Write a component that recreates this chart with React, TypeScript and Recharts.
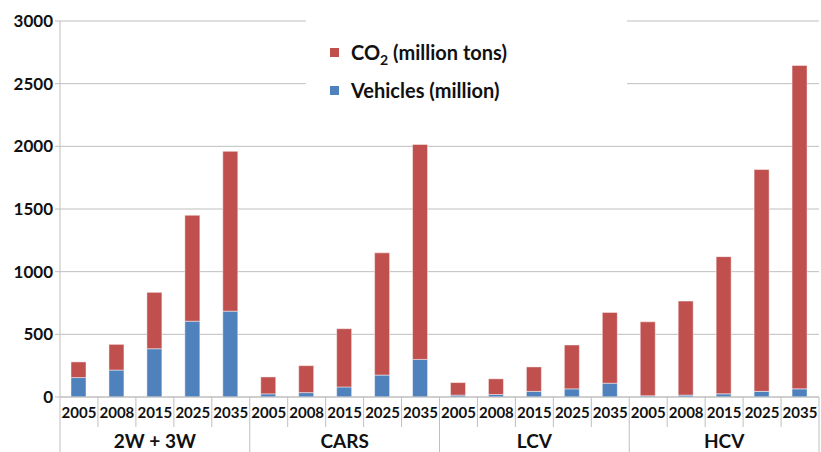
import React from "react";
import { BarChart, Bar, XAxis, YAxis, CartesianGrid } from "recharts";

const GROUPS = ["2W + 3W", "CARS", "LCV", "HCV"];
const YEARS = ["2005", "2008", "2015", "2025", "2035"];

// vehicles (million), per group, per year
const VEHICLES = [
  [155, 215, 385, 605, 685],
  [25, 35, 80, 175, 300],
  [15, 20, 45, 65, 110],
  [10, 15, 25, 45, 65],
];

// CO2 (million tons), stacked on top of vehicles
const CO2 = [
  [125, 205, 450, 845, 1275],
  [135, 215, 465, 975, 1715],
  [100, 125, 195, 350, 565],
  [590, 750, 1095, 1770, 2580],
];

const Y_TICKS = [0, 500, 1000, 1500, 2000, 2500, 3000];

const RED = "#C0504D";
const BLUE = "#4F81BD";
const GRID = "#BFBFBF";
const FONT = "Lato, 'Open Sans', sans-serif";

const W = 821;
const H = 452;
const M = { top: 21, right: 2, bottom: 0, left: 0 };
const Y_W = 60;
const X_H = 55;
const AXIS_Y = H - X_H;

const data = GROUPS.flatMap((g, gi) =>
  YEARS.map((y, yi) => ({
    key: `${g} ${y}`,
    group: g,
    year: y,
    vehicles: VEHICLES[gi][yi],
    co2: CO2[gi][yi],
  }))
);

const BAND = (W - Y_W - M.right) / data.length;

const XTick = ({ x, index }: any) => {
  const d = data[index];
  const half = BAND / 2;
  const pos = index % YEARS.length;
  const last = index === data.length - 1;
  return (
    <g>
      <line x1={x - half} x2={x - half} y1={AXIS_Y} y2={pos === 0 ? H : AXIS_Y + 30} stroke={GRID} />
      {last && <line x1={x + half} x2={x + half} y1={AXIS_Y} y2={H} stroke={GRID} />}
      <text x={x} y={AXIS_Y + 21} textAnchor="middle" fontSize={15} fontWeight={700} fill="#111" fontFamily={FONT}>
        {d.year}
      </text>
      {pos === 2 && (
        <text x={x} y={H - 4} textAnchor="middle" fontSize={19} fontWeight={700} fill="#111" fontFamily={FONT}>
          {d.group}
        </text>
      )}
    </g>
  );
};

const LEGEND = [
  { label: <>CO<sub style={{ fontSize: "0.7em", lineHeight: 0 }}>2</sub> (million tons)</>, color: RED },
  { label: <>Vehicles (million)</>, color: BLUE },
];

export default function App() {
  return (
    <div style={{ position: "absolute", left: 0, top: 0, width: W, height: H, background: "#fff" }}>
      <BarChart width={W} height={H} data={data} margin={M} barSize={15}>
        <CartesianGrid vertical={false} stroke={GRID} />
        <XAxis
          dataKey="key"
          interval={0}
          height={X_H}
          tickLine={false}
          axisLine={{ stroke: GRID }}
          tick={<XTick />}
        />
        <YAxis
          width={Y_W}
          domain={[0, 3000]}
          ticks={Y_TICKS}
          interval={0}
          tickSize={5}
          tickMargin={2}
          axisLine={{ stroke: GRID }}
          tickLine={{ stroke: GRID }}
          tick={{ fontSize: 17, fontWeight: 700, fill: "#111", fontFamily: FONT }}
        />
        <Bar dataKey="vehicles" stackId="a" fill={BLUE} stroke="#fff" strokeOpacity={0.45} isAnimationActive={false} />
        <Bar dataKey="co2" stackId="a" fill={RED} stroke="#fff" strokeOpacity={0.45} isAnimationActive={false} />
      </BarChart>
      <div
        style={{
          position: "absolute",
          left: 306,
          top: 14,
          width: 321,
          height: 96,
          background: "#fff",
          fontFamily: FONT,
          fontWeight: 700,
          fontSize: 20,
          color: "#111",
        }}
      >
        {LEGEND.map((l, i) => (
          <div
            key={i}
            style={{ position: "absolute", left: 24, top: 24 + i * 38, height: 28, display: "flex", alignItems: "center" }}
          >
            <span style={{ width: 9, height: 9, background: l.color, marginRight: 12, display: "inline-block" }} />
            <span style={{ lineHeight: "28px" }}>{l.label}</span>
          </div>
        ))}
      </div>
    </div>
  );
}
